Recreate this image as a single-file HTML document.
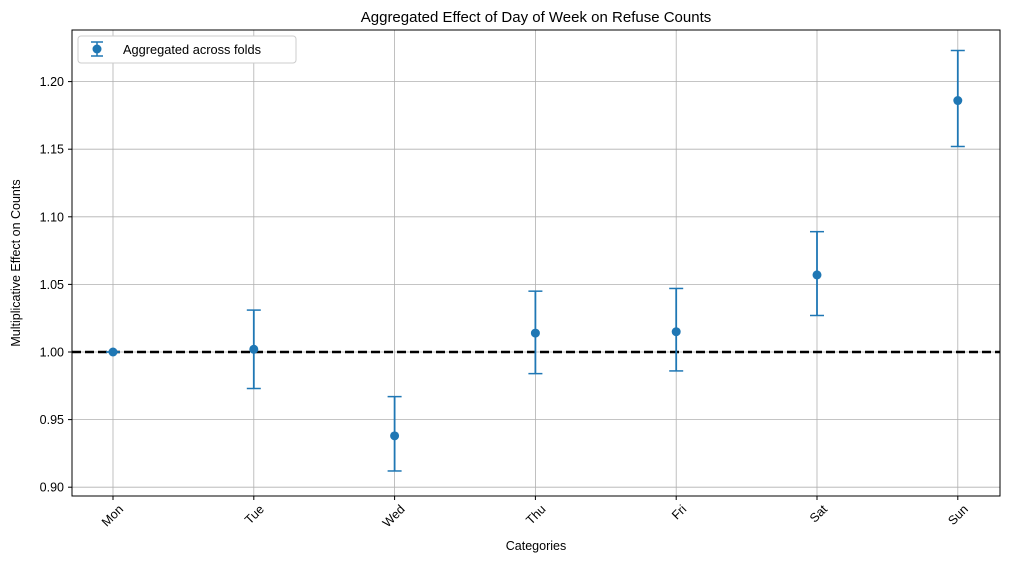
<!DOCTYPE html>
<html><head><meta charset="utf-8"><style>
body{margin:0;background:#fff;font-family:"Liberation Sans","DejaVu Sans",sans-serif}
</style></head><body>
<svg id="chart" width="1010" height="562" xmlns="http://www.w3.org/2000/svg" font-family="Liberation Sans, DejaVu Sans, sans-serif">
<text x="536" y="22" font-size="15" text-anchor="middle">Aggregated Effect of Day of Week on Refuse Counts</text>
<g id="grid"></g>
<g id="marks"></g>
<rect x="72" y="30" width="928" height="466" fill="none" stroke="#000" stroke-width="1"/>
<text x="536" y="550" font-size="12.5" text-anchor="middle">Categories</text>
<text transform="translate(20,263) rotate(-90)" font-size="12.5" text-anchor="middle">Multiplicative Effect on Counts</text>
<g>
<rect x="78" y="36" width="218" height="27" rx="3" fill="#fff" stroke="#ccc"/>
<line x1="97" y1="42" x2="97" y2="56" stroke="#1f77b4" stroke-width="1.5"/>
<line x1="91" y1="42" x2="103" y2="42" stroke="#1f77b4" stroke-width="1.5"/>
<line x1="91" y1="56" x2="103" y2="56" stroke="#1f77b4" stroke-width="1.5"/>
<circle cx="97" cy="49" r="4.5" fill="#1f77b4"/>
<text x="123" y="54" font-size="12.8">Aggregated across folds</text>
</g>
</svg>
<script>
const categories=["Mon","Tue","Wed","Thu","Fri","Sat","Sun"];
const means=[1.000,1.002,0.938,1.014,1.015,1.057,1.186];
const lower=[1.000,0.973,0.912,0.984,0.986,1.027,1.152];
const upper=[1.000,1.031,0.967,1.045,1.047,1.089,1.223];
const yTicks=[0.90,0.95,1.00,1.05,1.10,1.15,1.20];
const NS="http://www.w3.org/2000/svg";
const x0=113,dx=140.8;
function xs(i){return x0+i*dx;}
function ys(v){return 352-(v-1)*1352;}
const grid=document.getElementById('grid'),marks=document.getElementById('marks');
function mk(tag,attrs,parent){const e=document.createElementNS(NS,tag);for(const k in attrs)e.setAttribute(k,attrs[k]);parent.appendChild(e);return e;}
yTicks.forEach(t=>{
  const y=ys(t);
  const g=mk('line',{x1:72,x2:1000,y1:y,y2:y,stroke:'#b0b0b0','stroke-width':0.8},grid);
  
  
  mk('line',{x1:68,x2:72,y1:y,y2:y,stroke:'#000'},grid);
  const tx=mk('text',{x:64,y:y+4.5,'font-size':12.5,'text-anchor':'end'},grid);
  tx.textContent=t.toFixed(2);
  
  
});
categories.forEach((c,i)=>{
  const x=xs(i);
  const g=mk('line',{x1:x,x2:x,y1:30,y2:496,stroke:'#b0b0b0','stroke-width':0.8},grid);
  
  
  mk('line',{x1:x,x2:x,y1:496,y2:500,stroke:'#000'},grid);
  const tx=mk('text',{transform:`translate(${x+11},${510}) rotate(-45)`,'font-size':12.5,'text-anchor':'end'},grid);
  tx.textContent=c;
  
  
});
const ref=mk('line',{x1:72,x2:1000,y1:ys(1),y2:ys(1),stroke:'#000','stroke-width':2.5,'stroke-dasharray':'9,4'},marks);


categories.forEach((c,i)=>{
  const x=xs(i),g=mk('g',{},marks);
  
  
  const yl=ys(lower[i]),yu=ys(upper[i]);
  mk('line',{x1:x,x2:x,y1:yu,y2:yl,stroke:'#1f77b4','stroke-width':1.8},g);
  mk('line',{x1:x-7,x2:x+7,y1:yu,y2:yu,stroke:'#1f77b4','stroke-width':1.5},g);
  mk('line',{x1:x-7,x2:x+7,y1:yl,y2:yl,stroke:'#1f77b4','stroke-width':1.5},g);
  mk('circle',{cx:x,cy:ys(means[i]),r:4.5,fill:'#1f77b4'},g);
});
</script>
</body></html>
